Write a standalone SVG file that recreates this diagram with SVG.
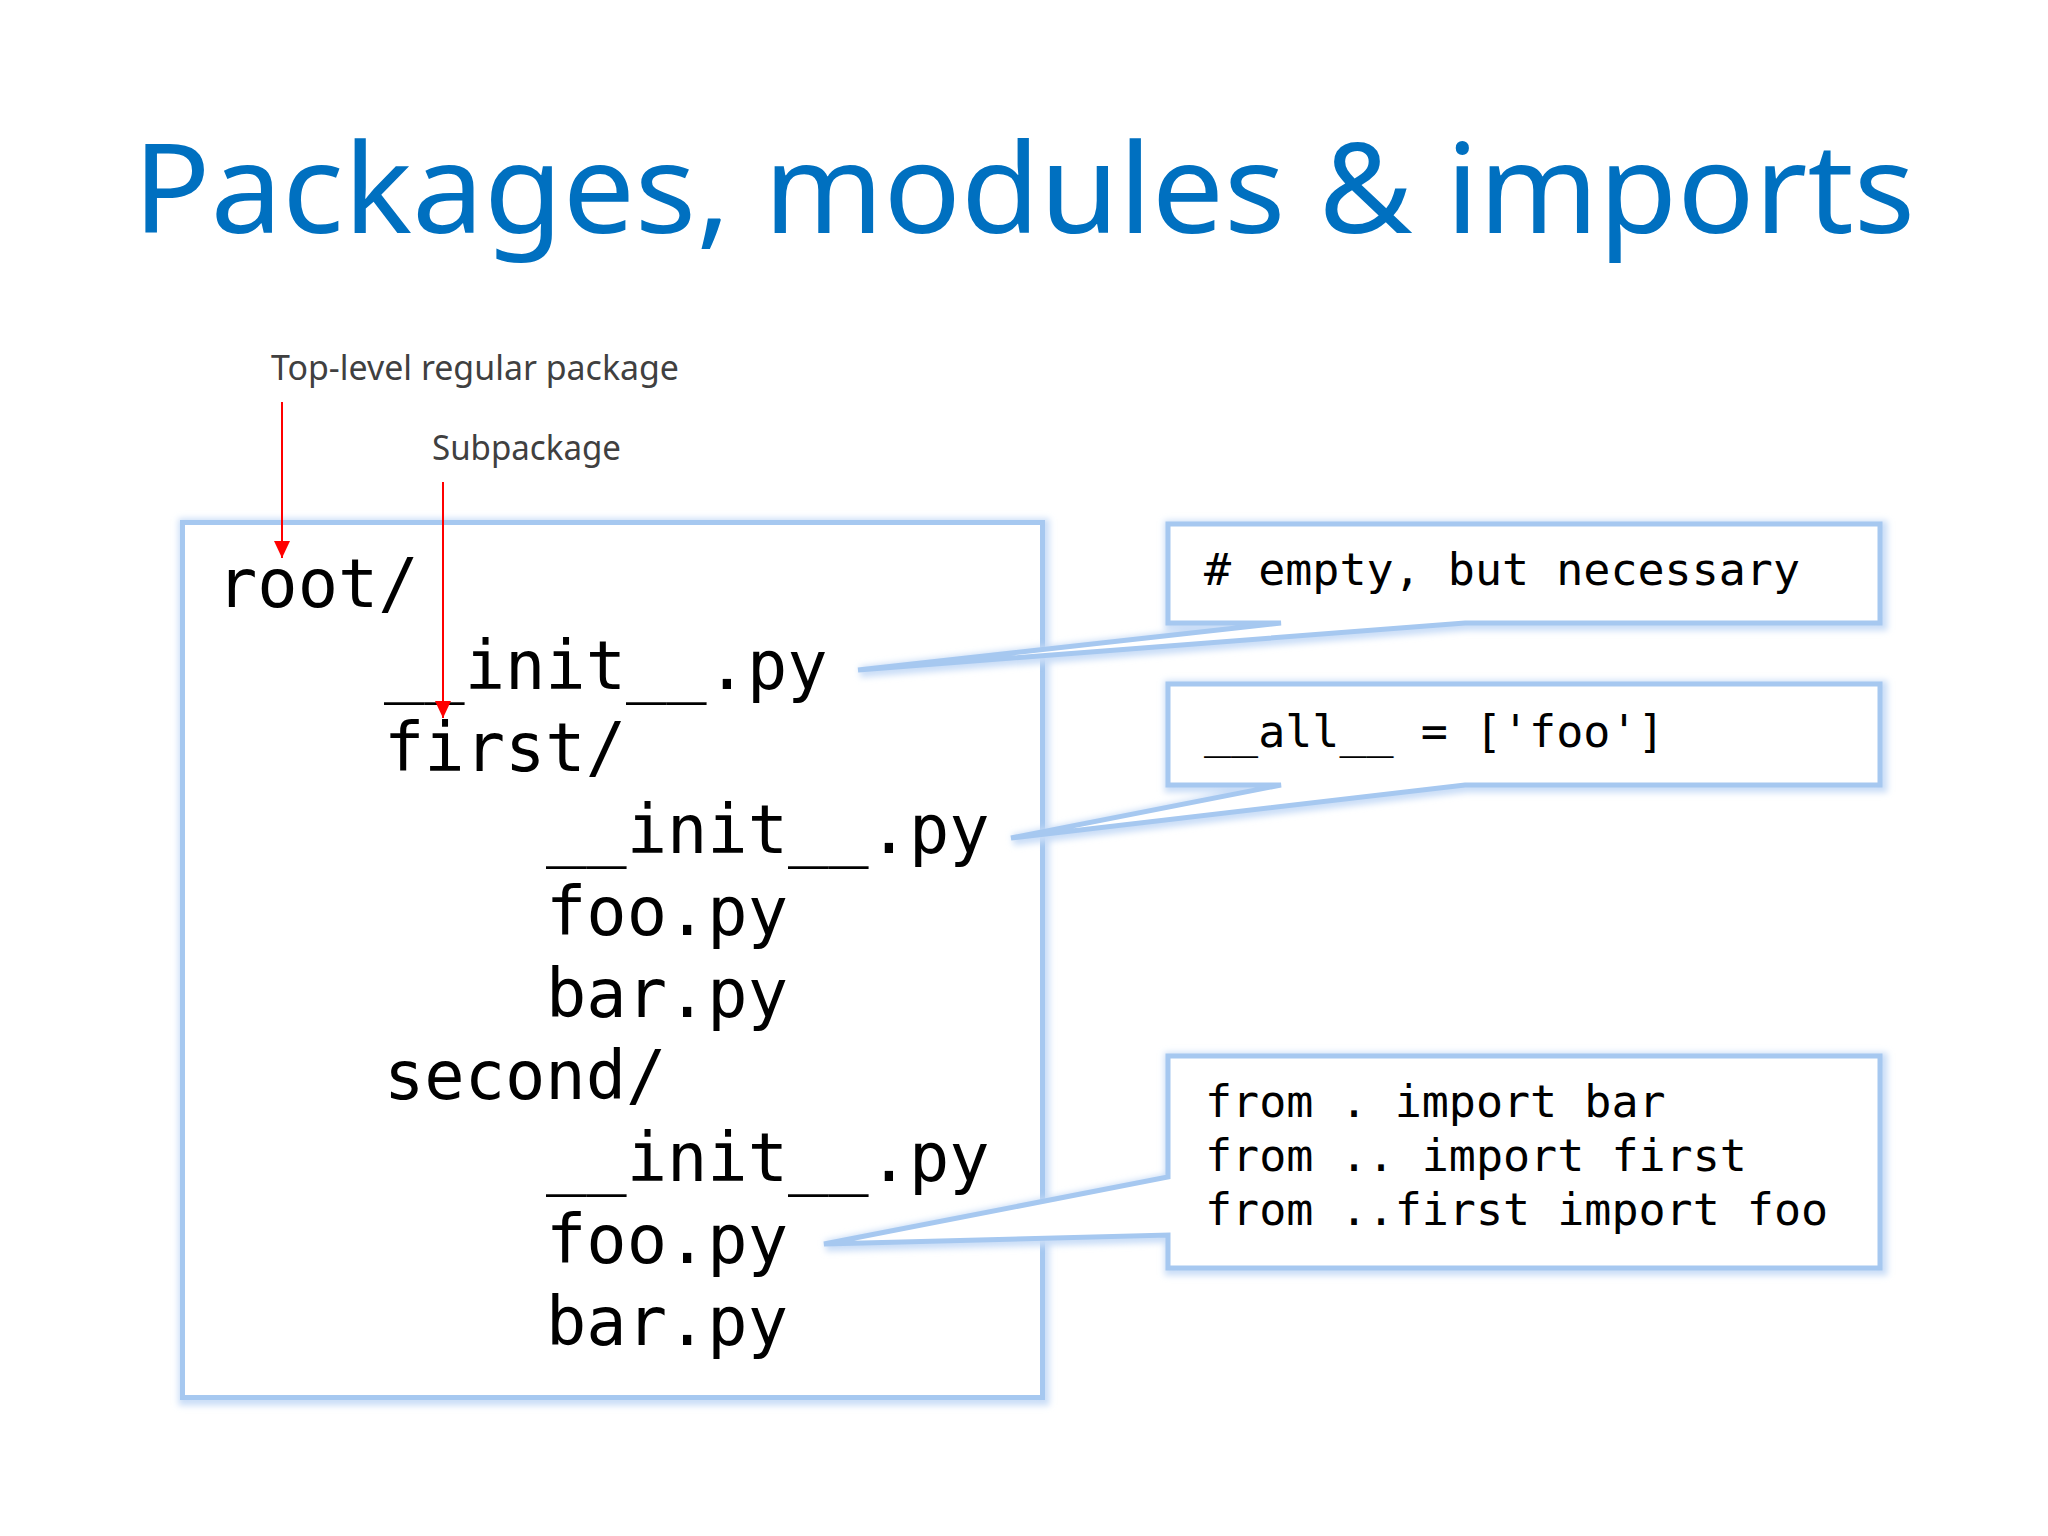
<svg xmlns="http://www.w3.org/2000/svg" width="2048" height="1536" viewBox="0 0 2048 1536">
  <defs>
    <style>
      .title { font-family: "Noto Sans", "Open Sans", sans-serif; font-size: 125px; fill: #0070C0; }
      .label { font-family: "Noto Sans", "Open Sans", sans-serif; font-size: 34px; fill: #404040; }
      .tree { font-family: "DejaVu Sans Mono", "Liberation Mono", monospace; font-size: 67px; fill: #000000; }
      .code { font-family: "DejaVu Sans Mono", "Liberation Mono", monospace; font-size: 45px; fill: #000000; }
      .glow { fill: none; stroke: #C9DDF7; stroke-width: 11; filter: url(#blur); }
      .frame { fill: #FFFFFF; stroke: #A6C8F0; stroke-width: 5; stroke-linejoin: miter; }
      .arrow { stroke: #FF0000; stroke-width: 2; fill: none; marker-end: url(#redhead); }
    </style>
    <filter id="blur" x="-10%" y="-10%" width="120%" height="120%">
      <feGaussianBlur stdDeviation="3"/>
    </filter>
    <marker id="redhead" markerUnits="userSpaceOnUse" markerWidth="18" markerHeight="18" refX="17" refY="8" orient="auto">
      <path d="M0,0 L17,8 L0,16 Z" fill="#FF0000"/>
    </marker>
  </defs>

  <rect width="2048" height="1536" fill="#FFFFFF"/>

  <g id="title">
    <text class="title" x="133" y="233" textLength="1782" lengthAdjust="spacingAndGlyphs">Packages, modules &amp; imports</text>
  </g>

  <g id="label-top-level">
    <text class="label" x="271" y="380" textLength="408" lengthAdjust="spacingAndGlyphs">Top-level regular package</text>
  </g>
  <g id="label-subpackage">
    <text class="label" x="432" y="460" textLength="189" lengthAdjust="spacingAndGlyphs">Subpackage</text>
  </g>

  <g id="tree">
    <rect class="glow" x="184" y="524" width="860" height="876"/>
    <rect class="frame" x="182.5" y="522.5" width="860" height="875"/>
    <text class="tree" x="217" y="607">root/</text>
    <text class="tree" x="384" y="689">__init__.py</text>
    <text class="tree" x="384" y="771">first/</text>
    <text class="tree" x="546" y="853">__init__.py</text>
    <text class="tree" x="546" y="935">foo.py</text>
    <text class="tree" x="546" y="1017">bar.py</text>
    <text class="tree" x="384" y="1099">second/</text>
    <text class="tree" x="546" y="1181">__init__.py</text>
    <text class="tree" x="546" y="1263">foo.py</text>
    <text class="tree" x="546" y="1345">bar.py</text>
  </g>

  <g id="callout-empty">
    <path class="glow" d="M1170,526 H1882 V625 H1467 L860,672 L1283,625 H1170 Z"/>
    <path class="frame" d="M1168,524 H1880 V623 H1465 L858,670 L1281,623 H1168 Z"/>
    <text class="code" x="1204" y="585">#&#160;empty,&#160;but&#160;necessary</text>
  </g>

  <g id="callout-all">
    <path class="glow" d="M1170,686 H1882 V787 H1467 L1013,840 L1283,787 H1170 Z"/>
    <path class="frame" d="M1168,684 H1880 V785 H1465 L1011,838 L1281,785 H1168 Z"/>
    <text class="code" x="1204" y="747">__all__&#160;=&#160;['foo']</text>
  </g>

  <g id="callout-imports">
    <path class="glow" d="M1170,1058 H1882 V1270 H1170 V1237 L826,1246 L1170,1179 Z"/>
    <path class="frame" d="M1168,1056 H1880 V1268 H1168 V1235 L824,1244 L1168,1177 Z"/>
    <text class="code" x="1205" y="1117">from&#160;.&#160;import&#160;bar</text>
    <text class="code" x="1205" y="1171">from&#160;..&#160;import&#160;first</text>
    <text class="code" x="1205" y="1225">from&#160;..first&#160;import&#160;foo</text>
  </g>

  <g id="connectors">
    <line class="arrow" x1="282" y1="402" x2="282" y2="558"/>
    <line class="arrow" x1="443" y1="482" x2="443" y2="718"/>
  </g>
</svg>
